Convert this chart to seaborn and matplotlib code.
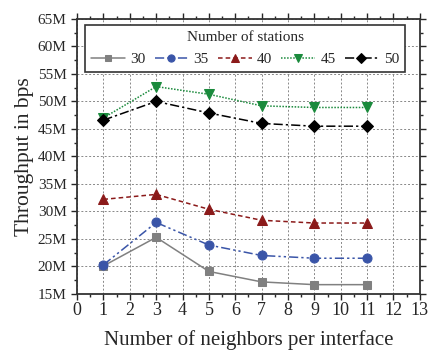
import matplotlib
matplotlib.use("Agg")
import matplotlib.pyplot as plt
import seaborn as sns
import pandas as pd
from matplotlib.ticker import MultipleLocator, FuncFormatter

neighbors = [1, 3, 5, 7, 9, 11]
stations = ["30", "35", "40", "45", "50"]
tp_30 = [20.1, 25.3, 19.1, 17.2, 16.7, 16.7]
tp_35 = [20.3, 28.0, 23.9, 22.0, 21.5, 21.5]
tp_40 = [32.2, 33.1, 30.4, 28.4, 27.9, 27.9]
tp_45 = [47.0, 52.7, 51.3, 49.2, 48.9, 48.9]
tp_50 = [46.6, 50.0, 47.9, 46.0, 45.5, 45.5]
series = [tp_30, tp_35, tp_40, tp_45, tp_50]

sns.set_style("ticks")
plt.rcParams['font.family'] = ['Liberation Serif', 'DejaVu Serif']

colors = ["#808080", "#3a55a8", "#8b1a1a", "#1a8a3c", "#000000"]
markers = ["s", "o", "^", "v", "D"]
dashes = ["-", (0, (6, 2, 1.5, 2, 1.5, 2)), (0, (3, 2)), (0, (1, 1)), (0, (6, 2, 1.5, 2))]
msizes = [5.5, 6.5, 6.5, 6.5, 6]

fig = plt.figure(figsize=(4.28, 3.5), dpi=100)
ax = fig.add_axes([0.18, 0.16, 0.801, 0.786])

for lab, vals, c, m, d, ms in zip(stations, series, colors, markers, dashes, msizes):
    df = pd.DataFrame({"x": neighbors, "y": vals})
    sns.lineplot(data=df, x="x", y="y", ax=ax, color=c, marker=m, markersize=ms,
                 markeredgecolor=c, linewidth=1.1, linestyle=d, label=lab)

ax.set_xlim(0, 13)
ax.set_ylim(15, 65)
ax.xaxis.set_major_locator(MultipleLocator(1))
ax.xaxis.set_minor_locator(MultipleLocator(0.5))
ax.yaxis.set_major_locator(MultipleLocator(5))
ax.yaxis.set_minor_locator(MultipleLocator(2.5))
ax.yaxis.set_major_formatter(FuncFormatter(lambda v, p: f"{int(v)}M"))
ax.grid(True, which="major", color="#888888", linestyle=(0, (2, 2)), linewidth=0.7)
ax.tick_params(which="both", direction="out", top=True, right=True, width=1.0)
ax.tick_params(axis="y", labelsize=11)
ax.tick_params(axis="x", labelsize=13, pad=2)
ax.tick_params(which="major", length=4)
ax.tick_params(which="minor", length=2.5)
for s in ax.spines.values():
    s.set_linewidth(1.3)
    s.set_color("#333333")

ax.set_xlabel("Number of neighbors per interface", fontsize=15, labelpad=8)
ax.set_ylabel("Throughput in bps", fontsize=15.5, labelpad=3)

leg = ax.legend(title="Number of stations", ncol=5, loc="upper center",
                bbox_to_anchor=(0.49, 0.978), borderaxespad=0, fontsize=11, title_fontsize=11,
                frameon=True, fancybox=False, handlelength=2.2, handletextpad=0.35,
                columnspacing=0.6, borderpad=0.4, labelspacing=0.2, markerscale=0.8)
leg._legend_box.sep = 6
leg.get_frame().set_edgecolor("#333333")
leg.get_frame().set_linewidth(1.2)
leg.get_frame().set_alpha(1)

fig.savefig("out.png", dpi=100)
